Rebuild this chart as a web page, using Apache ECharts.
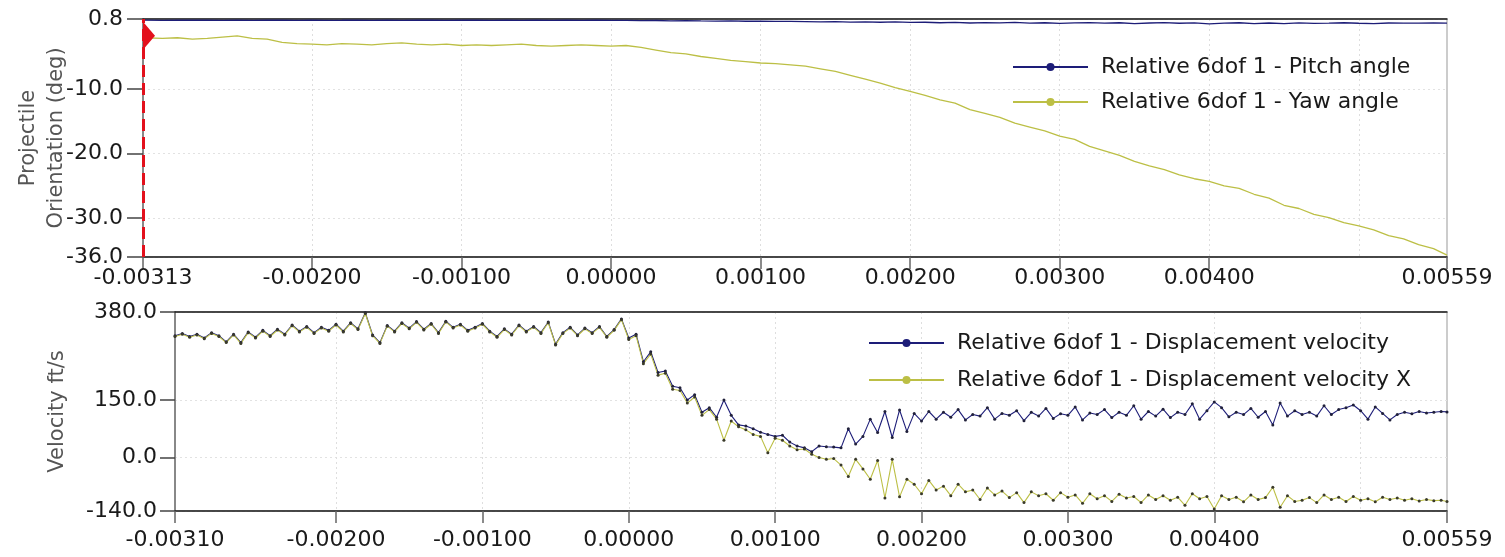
<!DOCTYPE html>
<html>
<head>
<meta charset="utf-8">
<title>Relative 6dof 1</title>
<script src="https://cdn.jsdelivr.net/npm/echarts@6/dist/echarts.min.js"></script>
<style>
html,body{margin:0;padding:0;background:#fff;}
#chart{width:1505px;height:557px;}
</style>
</head>
<body>
<div id="chart"></div>
<script>
"use strict";

// times are kept in milliseconds, the axes show seconds
var orientTimeMs = [-3.13,-3.0,-2.9,-2.8,-2.7,-2.6,-2.5,-2.4,-2.3,-2.2,-2.1,-2.0,-1.9,-1.8,-1.7,-1.6,-1.5,-1.4,-1.3,-1.2,
  -1.1,-1.0,-0.9,-0.8,-0.7,-0.6,-0.5,-0.4,-0.3,-0.2,-0.1,0.0,0.1,0.2,0.3,0.4,0.5,0.6,0.7,0.8,
  0.9,1.0,1.1,1.2,1.3,1.4,1.5,1.6,1.7,1.8,1.9,2.0,2.1,2.2,2.3,2.4,2.5,2.6,2.7,2.8,
  2.9,3.0,3.1,3.2,3.3,3.4,3.5,3.6,3.7,3.8,3.9,4.0,4.1,4.2,4.3,4.4,4.5,4.6,4.7,4.8,
  4.9,5.0,5.1,5.2,5.3,5.4,5.5,5.59];
var pitchAngle = [0.62,0.60,0.63,0.61,0.62,0.59,0.62,0.60,0.63,0.61,
  0.58,0.62,0.60,0.61,0.63,0.60,0.62,0.59,0.61,0.62,
  0.60,0.63,0.61,0.59,0.62,0.60,0.61,0.58,0.62,0.60,
  0.61,0.59,0.58,0.55,0.57,0.52,0.54,0.50,0.48,0.52,
  0.45,0.47,0.42,0.44,0.40,0.36,0.40,0.33,0.35,0.30,
  0.34,0.28,0.30,0.22,0.27,0.18,0.25,0.20,0.28,0.15,
  0.22,0.12,0.20,0.24,0.16,0.22,0.10,0.18,0.25,0.14,
  0.20,0.05,0.15,0.22,0.10,0.18,0.08,0.20,0.12,0.16,
  0.22,0.14,0.10,0.18,0.16,0.15,0.18,0.17];
var yawAngle = [-2.1,-2.2,-2.1,-2.3,-2.2,-2.0,-1.8,-2.2,-2.3,-2.8,
  -3.0,-3.1,-3.2,-3.0,-3.1,-3.2,-3.0,-2.9,-3.1,-3.2,
  -3.1,-3.3,-3.2,-3.3,-3.2,-3.1,-3.3,-3.4,-3.3,-3.2,
  -3.3,-3.4,-3.3,-3.6,-4.0,-4.4,-4.6,-5.0,-5.3,-5.6,
  -5.8,-6.0,-6.1,-6.3,-6.5,-6.9,-7.3,-7.9,-8.5,-9.1,
  -9.8,-10.4,-11.0,-11.7,-12.2,-13.2,-13.8,-14.4,-15.3,-15.9,
  -16.5,-17.3,-17.8,-18.9,-19.6,-20.3,-21.2,-21.9,-22.5,-23.3,
  -23.9,-24.3,-25.0,-25.4,-26.3,-26.9,-28.0,-28.5,-29.4,-29.9,
  -30.7,-31.2,-31.8,-32.7,-33.2,-34.1,-34.7,-35.7];

var velTimeMs = [-3.10,-3.05,-3.00,-2.95,-2.90,-2.85,-2.80,-2.75,-2.70,-2.65,
  -2.60,-2.55,-2.50,-2.45,-2.40,-2.35,-2.30,-2.25,-2.20,-2.15,
  -2.10,-2.05,-2.00,-1.95,-1.90,-1.85,-1.80,-1.75,-1.70,-1.65,
  -1.60,-1.55,-1.50,-1.45,-1.40,-1.35,-1.30,-1.25,-1.20,-1.15,
  -1.10,-1.05,-1.00,-0.95,-0.90,-0.85,-0.80,-0.75,-0.70,-0.65,
  -0.60,-0.55,-0.50,-0.45,-0.40,-0.35,-0.30,-0.25,-0.20,-0.15,
  -0.10,-0.05,0.00,0.05,0.10,0.15,0.20,0.25,0.30,0.35,
  0.40,0.45,0.50,0.55,0.60,0.65,0.70,0.75,0.80,0.85,
  0.90,0.95,1.00,1.05,1.10,1.15,1.20,1.25,1.30,1.35,
  1.40,1.45,1.50,1.55,1.60,1.65,1.70,1.75,1.80,1.85,
  1.90,1.95,2.00,2.05,2.10,2.15,2.20,2.25,2.30,2.35,
  2.40,2.45,2.50,2.55,2.60,2.65,2.70,2.75,2.80,2.85,
  2.90,2.95,3.00,3.05,3.10,3.15,3.20,3.25,3.30,3.35,
  3.40,3.45,3.50,3.55,3.60,3.65,3.70,3.75,3.80,3.85,
  3.90,3.95,4.00,4.05,4.10,4.15,4.20,4.25,4.30,4.35,
  4.40,4.45,4.50,4.55,4.60,4.65,4.70,4.75,4.80,4.85,
  4.90,4.95,5.00,5.05,5.10,5.15,5.20,5.25,5.30,5.35,
  5.40,5.45,5.50,5.55,5.59];
var dispVelocity = [318,324,316,322,312,326,318,302,322,300,
  328,314,332,318,335,322,346,330,342,326,
  340,332,348,330,352,336,378,320,300,345,
  330,352,338,355,335,350,326,356,340,348,
  332,340,350,330,316,336,322,346,330,342,
  326,354,296,326,340,320,338,326,342,316,
  334,362,312,322,250,276,222,226,186,182,
  150,164,118,130,105,150,110,85,82,75,
  66,60,55,58,40,30,25,15,30,28,
  27,25,75,35,55,100,65,120,52,124,
  68,115,95,120,100,118,105,125,98,112,
  108,130,100,115,110,122,96,118,108,128,
  102,114,110,132,98,116,112,125,104,118,
  110,135,100,120,108,126,104,118,112,140,
  100,122,145,130,106,118,112,128,105,120,
  85,142,108,122,112,118,108,135,112,125,
  130,137,122,100,132,115,98,112,118,114,
  120,116,118,120,119];
var dispVelocityX = [316,322,314,320,310,324,316,300,320,298,
  326,312,330,316,333,320,344,328,340,324,
  338,330,346,328,350,334,376,318,298,343,
  328,350,336,353,333,348,324,354,338,346,
  330,338,348,328,314,334,320,344,328,340,
  324,352,294,324,338,318,336,324,340,314,
  332,360,308,318,245,270,215,220,178,175,
  142,158,110,125,100,45,95,80,72,60,
  55,12,50,45,30,20,22,8,0,-5,
  -3,-20,-50,-5,-30,-57,-8,-106,-5,-103,
  -57,-70,-95,-60,-85,-75,-100,-70,-90,-85,
  -110,-80,-98,-88,-105,-92,-118,-90,-100,-95,
  -112,-92,-104,-98,-120,-95,-108,-100,-115,-96,
  -106,-102,-118,-98,-110,-100,-112,-104,-125,-95,
  -108,-102,-135,-100,-110,-104,-116,-98,-110,-105,
  -78,-130,-100,-115,-112,-105,-118,-98,-110,-104,
  -115,-102,-112,-108,-116,-104,-110,-106,-112,-108,
  -114,-110,-113,-112,-115];

// tick labels (ms for x) and grid lines
var orientXTicksMs = [-3.13,-2,-1,0,1,2,3,4,5.59];
var velXTicksMs = [-3.10,-2,-1,0,1,2,3,4,5.59];
var xGridMs = [-2,-1,0,1,2,3,4,5];
var orientYTicks = [-36,-30,-20,-10,0.8];
var velYTicks = [-140,0,150,380];
var cursorMarker = [-3.13,-1.8]; // red cursor at the start of the window (ms, deg)

var FONT = 'DejaVu Sans';
var NAVY = '#1d1d78', OLIVE = '#bcbf45', RED = '#e3101c';

function toSec(list){ return list.map(function(v){ return v/1000; }); }
function pairs(tMs, vals){ return tMs.map(function(t,i){ return [t/1000, vals[i]]; }); }

function xAxisMain(grid, ticksMs, margin){
  var ticks = toSec(ticksMs);
  return {
    type:'value', gridIndex:grid, position:'bottom',
    min:ticks[0], max:ticks[ticks.length-1],
    axisLine:{onZero:false, lineStyle:{color:'#1a1a1a', width:1.5}},
    axisTick:{length:12, customValues:ticks, lineStyle:{color:'#666', width:1.5}},
    axisLabel:{customValues:ticks, margin:margin, fontFamily:FONT, fontSize:22, color:'#1a1a1a',
      formatter:function(v){ return v.toFixed(5); }},
    splitLine:{show:false}
  };
}
function xAxisGrid(grid, ticksMs){
  var ticks = toSec(ticksMs);
  return {
    type:'value', gridIndex:grid, position:'top',
    min:ticks[0], max:ticks[ticks.length-1],
    axisLine:{onZero:false, lineStyle:{color:'#1a1a1a', width:1.5}},
    axisTick:{show:false, customValues:toSec(xGridMs)},
    axisLabel:{show:false},
    splitLine:{show:true, lineStyle:{color:'#dedede', type:[2,3]}}
  };
}
function yAxisCfg(grid, ticks, name, gap, tickLen, margin){
  return {
    type:'value', gridIndex:grid, min:ticks[0], max:ticks[ticks.length-1],
    name:name, nameLocation:'middle', nameGap:gap, nameMoveOverlap:false,
    nameTextStyle:{fontFamily:FONT, fontSize:21, color:'#555', lineHeight:28},
    axisLine:{show:true, onZero:false, lineStyle:{color:'#888', width:2}},
    axisTick:{show:true, length:tickLen, customValues:ticks, lineStyle:{color:'#444', width:1.5}},
    axisLabel:{customValues:ticks, margin:margin, fontFamily:FONT, fontSize:22, color:'#1a1a1a',
      formatter:function(v){ return v.toFixed(1); }},
    splitLine:{show:true, lineStyle:{color:'#e2e2e2', type:[2,3]}}
  };
}
function legendCfg(left, top, gap, names, colors){
  return {
    orient:'vertical', left:left, top:top, itemWidth:75, itemHeight:10, itemGap:gap,
    lineStyle:{width:2},
    data:names.map(function(n,i){ return {name:n, itemStyle:{color:colors[i]}}; }),
    textStyle:{fontFamily:FONT, fontSize:22, color:'#1a1a1a', lineHeight:24, padding:[0,0,0,8]}
  };
}

var cursorT = cursorMarker[0]/1000;
var chart = echarts.init(document.getElementById('chart'));
var option = {
  backgroundColor:'#fff',
  animation:false,
  grid:[
    {left:143, right:58, top:19, height:238, show:true, borderColor:'#999', borderWidth:1, outerBoundsMode:'none'},
    {left:175, right:58, top:312, height:199, show:true, borderColor:'#999', borderWidth:1, outerBoundsMode:'none'}
  ],
  xAxis:[
    xAxisMain(0, orientXTicksMs, 10), xAxisGrid(0, orientXTicksMs),
    xAxisMain(1, velXTicksMs, 18), xAxisGrid(1, velXTicksMs)
  ],
  yAxis:[
    yAxisCfg(0, orientYTicks, 'Projectile\nOrientation (deg)', 72, 16, 20),
    yAxisCfg(1, velYTicks, 'Velocity ft/s', 103, 15, 18)
  ],
  legend:[
    legendCfg(1007, 50, 11, ['Relative 6dof 1 - Pitch angle','Relative 6dof 1 - Yaw angle'], [NAVY, OLIVE]),
    legendCfg(863, 326, 13, ['Relative 6dof 1 - Displacement velocity','Relative 6dof 1 - Displacement velocity X'], [NAVY, OLIVE])
  ],
  series:[
    {name:'Relative 6dof 1 - Pitch angle', type:'line', xAxisIndex:0, yAxisIndex:0,
      data:pairs(orientTimeMs, pitchAngle), symbol:'circle', showSymbol:false,
      lineStyle:{color:NAVY, width:1.3}, itemStyle:{color:NAVY}},
    {name:'Relative 6dof 1 - Yaw angle', type:'line', xAxisIndex:0, yAxisIndex:0,
      data:pairs(orientTimeMs, yawAngle), symbol:'circle', showSymbol:false,
      lineStyle:{color:OLIVE, width:1.3}, itemStyle:{color:OLIVE},
      markLine:{silent:true, symbol:['none','none'], label:{show:false},
        lineStyle:{color:RED, type:[12,6], width:3},
        data:[[{coord:[cursorT, orientYTicks[0]]}, {coord:[cursorT, orientYTicks[orientYTicks.length-1]]}]]},
      markPoint:{silent:true, label:{show:false},
        data:[{coord:[cursorT, cursorMarker[1]], symbol:'triangle', symbolSize:[28,12],
          symbolRotate:-90, symbolOffset:[6,0], itemStyle:{color:RED}}]}},
    {name:'Relative 6dof 1 - Displacement velocity', type:'line', xAxisIndex:2, yAxisIndex:1,
      data:pairs(velTimeMs, dispVelocity), symbol:'circle', symbolSize:3,
      lineStyle:{color:NAVY, width:1.1}, itemStyle:{color:'#20203a'}},
    {name:'Relative 6dof 1 - Displacement velocity X', type:'line', xAxisIndex:2, yAxisIndex:1,
      data:pairs(velTimeMs, dispVelocityX), symbol:'circle', symbolSize:3,
      lineStyle:{color:OLIVE, width:1.1}, itemStyle:{color:'#3a3a2a'}}
  ]
};
chart.setOption(option);
</script>
</body>
</html>
